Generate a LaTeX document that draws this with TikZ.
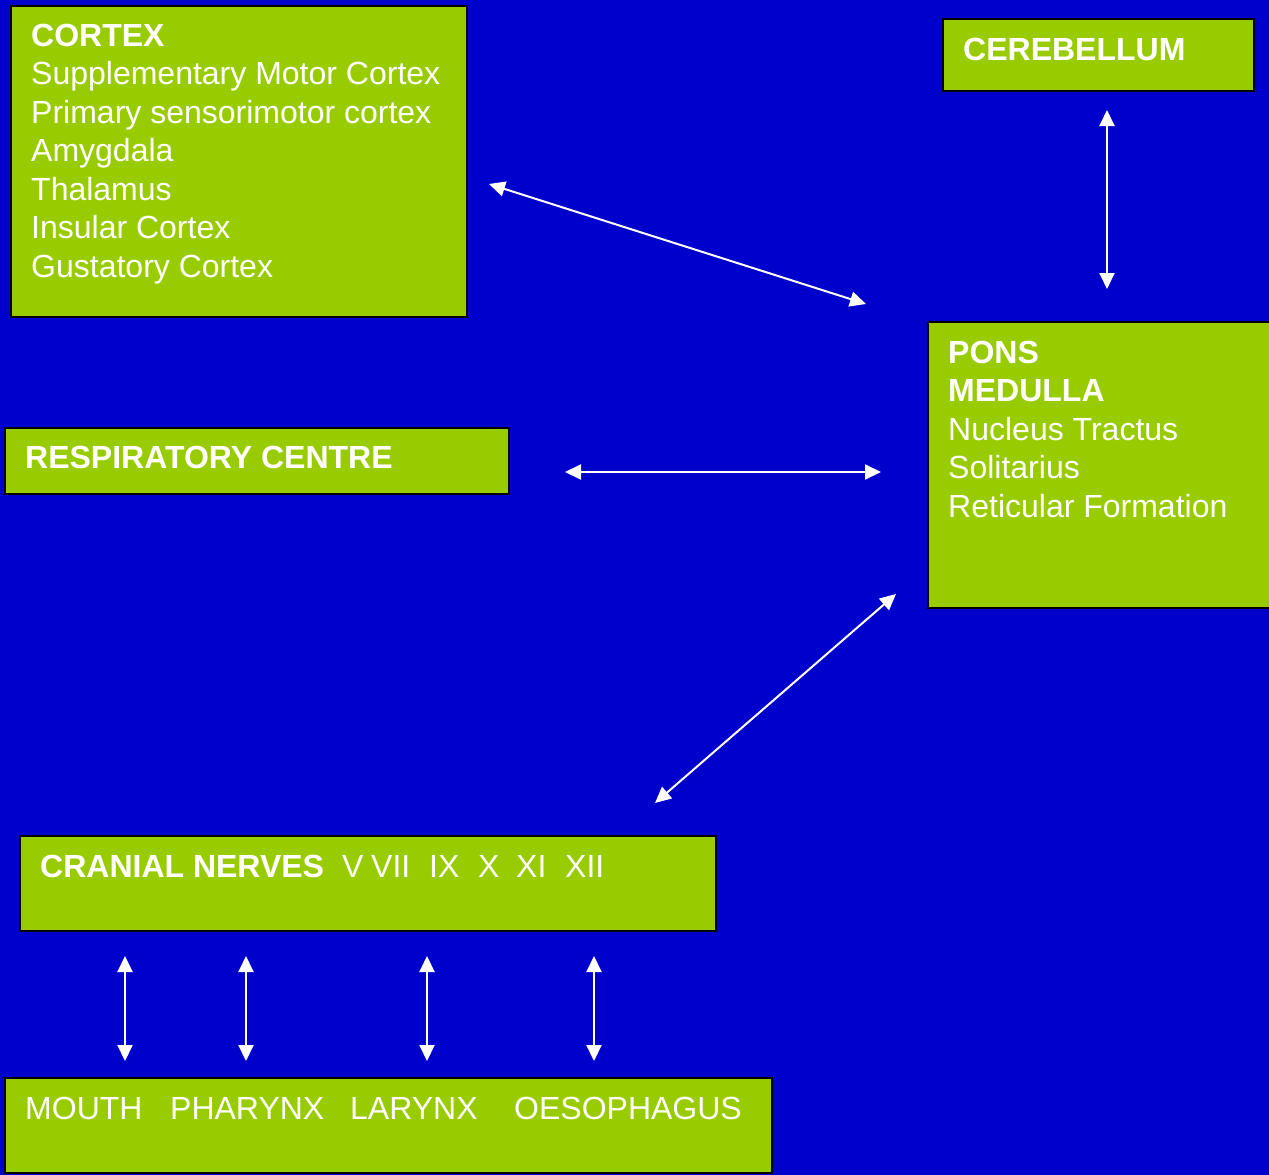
\documentclass[tikz,border=0pt]{standalone}
\usepackage{fontspec}
\setmainfont{Liberation Sans}
\usetikzlibrary{arrows.meta}
\definecolor{bgblue}{HTML}{0000CC}
\definecolor{boxgreen}{HTML}{99CC00}
\begin{document}
\begin{tikzpicture}[x=1pt,y=-1pt,
  box/.style={draw=black, line width=2pt, fill=boxgreen, anchor=north west, inner sep=0pt},
  txt/.style={text=white, anchor=base west, inner sep=0pt, font=\fontsize{32}{38.5}\selectfont},
  btxt/.style={txt, font=\fontsize{32}{38.5}\selectfont\bfseries},
  link/.style={draw=white, line width=2pt, {Triangle[length=16pt,width=15pt]}-{Triangle[length=16pt,width=15pt]}}
]
\fill[bgblue] (0,0) rectangle (1269,1175);
\useasboundingbox (0,0) rectangle (1269,1175);
\clip (0,0) rectangle (1269,1175);

% boxes
\node[box, minimum width=456pt, minimum height=311pt] (cortex) at (10,5) {};
\node[box, minimum width=311pt, minimum height=72pt] (cereb) at (942,18) {};
\node[box, minimum width=360pt, minimum height=286pt] (pons) at (927,321) {};
\node[box, minimum width=504pt, minimum height=66pt] (resp) at (4,427) {};
\node[box, minimum width=696pt, minimum height=95pt] (cranial) at (19,835) {};
\node[box, minimum width=767pt, minimum height=95pt] (organs) at (4,1077) {};

% cortex text
\node[btxt] (c0) at (31,46) {CORTEX};
\node[txt] (c1) at (31,84.5) {Supplementary Motor Cortex};
\node[txt] (c2) at (31,123) {Primary sensorimotor cortex};
\node[txt] (c3) at (31,161.5) {Amygdala};
\node[txt] (c4) at (31,200) {Thalamus};
\node[txt] (c5) at (31,238.5) {Insular Cortex};
\node[txt] (c6) at (31,277) {Gustatory Cortex};

% cerebellum
\node[btxt] (ce0) at (963,60) {CEREBELLUM};

% pons / medulla
\node[btxt] (p0) at (948,363) {PONS};
\node[btxt] (p1) at (948,401.5) {MEDULLA};
\node[txt] (p2) at (948,440) {Nucleus Tractus};
\node[txt] (p3) at (948,478.5) {Solitarius};
\node[txt] (p4) at (948,517) {Reticular Formation};

% respiratory
\node[btxt] (r0) at (25,468) {RESPIRATORY CENTRE};

% cranial nerves
\node[btxt] (n0) at (40,877) {CRANIAL NERVES};
\node[txt] (n1) at (342,877) {V};
\node[txt] (n2) at (371,877) {VII};
\node[txt] (n3) at (429,877) {IX};
\node[txt] (n4) at (478,877) {X};
\node[txt] (n5) at (516,877) {XI};
\node[txt] (n6) at (565,877) {XII};

% organs
\node[txt] (o1) at (25,1119) {MOUTH};
\node[txt] (o2) at (170,1119) {PHARYNX};
\node[txt] (o3) at (350,1119) {LARYNX};
\node[txt] (o4) at (514,1119) {OESOPHAGUS};

% arrow end points
\coordinate (aCx) at (489,184);
\coordinate (aPx) at (866,304);
\coordinate (aCeT) at (1107,110);
\coordinate (aCeB) at (1107,289);
\coordinate (aRl) at (565,472);
\coordinate (aRr) at (881,472);
\coordinate (aPb) at (896,594);
\coordinate (aNt) at (655,803);
\foreach \i/\x in {1/125,2/246,3/427,4/594}{
  \coordinate (t\i) at (\x,956);
  \coordinate (b\i) at (\x,1061);
}

\draw[link] (aCx) -- (aPx);
\draw[link] (aCeT) -- (aCeB);
\draw[link] (aRl) -- (aRr);
\draw[link] (aPb) -- (aNt);
\foreach \i in {1,...,4}{\draw[link] (t\i) -- (b\i);}
\end{tikzpicture}
\end{document}
